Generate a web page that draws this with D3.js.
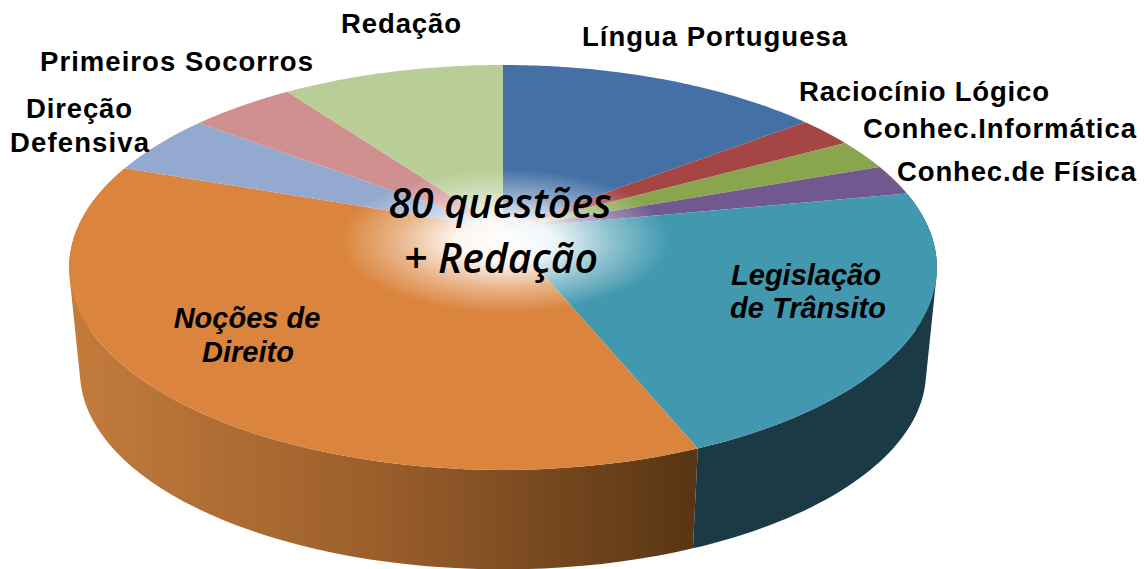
<!DOCTYPE html>
<html>
<head>
<meta charset="utf-8">
<script src="https://cdn.jsdelivr.net/npm/d3@7"></script>
<style>
html,body{margin:0;padding:0;background:#fff;}
svg{display:block;}
text{fill:#000;}
.lab{font-family:"Liberation Sans",Arial,sans-serif;font-weight:bold;font-size:27.5px;}
.inner{font-family:"Liberation Sans",Arial,sans-serif;font-weight:bold;font-style:italic;font-size:29px;text-anchor:middle;}
.center{font-family:"Open Sans",sans-serif;font-weight:600;font-style:italic;font-size:41px;text-anchor:middle;}
</style>
</head>
<body>
<svg width="1144" height="569"></svg>
<script>
// values (questions per subject, redação estimated)
var categories = ["Língua Portuguesa","Raciocínio Lógico","Conhec.Informática","Conhec.de Física",
                  "Legislação de Trânsito","Noções de Direito","Direção Defensiva","Primeiros Socorros","Redação"];
var values = [11.7,2,2,2,17.6,29.4,4,3.8,8];
var colorList = ["#4470a5","#a54644","#89a54e","#71588f","#4198af","#db843d","#93a9cf","#cf908f","#b9cd96"];

var svg = d3.select("svg");

var colors = d3.scaleOrdinal().domain(categories).range(colorList);

// perspective view of the disc: unit circle -> screen
// top rim y=65, apex y=229, front rim y=470
var cx = 503, r = 426, persp = -0.19, ya = 151.65, yb = 229;
var project = function(a)
{
  var u = Math.sin(a), v = -Math.cos(a);
  var w = 1 + persp*v;
  return [cx + r*u/w, (yb + ya*v)/w];
};
// the bottom rim is the top rim moved down and a little smaller
var projectLow = function(a)
{
  var p = project(a);
  return [cx + (p[0]-cx)*0.975, 372 + (p[1]-267.5)*0.975];
};

var slices = d3.pie().sort(null)(values);

var arcAngles = function(d)
{
  return d3.range(0,61).map(function(i){return d.startAngle + (d.endAngle-d.startAngle)*i/60;});
};

var line = d3.line();

var defs = svg.append("defs");

var wallGrad = defs.append("linearGradient")
  .attr("id","wallOrange")
  .attr("gradientUnits","userSpaceOnUse")
  .attr("x1",68).attr("x2",695).attr("y1",0).attr("y2",0);
wallGrad.append("stop").attr("offset",0).attr("stop-color","#c47c3c");
wallGrad.append("stop").attr("offset",0.5).attr("stop-color","#9a5e2b");
wallGrad.append("stop").attr("offset",1).attr("stop-color","#583514");

var glow = defs.append("radialGradient").attr("id","glow");
glow.append("stop").attr("offset",0).attr("stop-color","#fff").attr("stop-opacity",1);
glow.append("stop").attr("offset",0.3).attr("stop-color","#fff").attr("stop-opacity",0.92);
glow.append("stop").attr("offset",0.65).attr("stop-color","#fff").attr("stop-opacity",0.4);
glow.append("stop").attr("offset",1).attr("stop-color","#fff").attr("stop-opacity",0);

// side wall, only the two front slices show
var wallFill = {"Legislação de Trânsito":"#1b3a46","Noções de Direito":"url(#wallOrange)"};

// one quad per step, all wound the same way, so the outline closes
// between top and bottom rim and the fill has no seams
svg.append("g").classed("walls",true)
  .selectAll("path")
  .data(slices.filter(function(d){return wallFill[categories[d.index]];}))
  .enter()
  .append("path")
  .attr("d",function(d)
  {
    return d3.pairs(arcAngles(d)).map(function(s)
    {
      var quad = [project(s[0]),project(s[1]),projectLow(s[1]),projectLow(s[0])];
      if (d3.polygonArea(quad) < 0) { quad.reverse(); }
      return line(quad)+"Z";
    }).join("");
  })
  .attr("fill",function(d){return wallFill[categories[d.index]];});

// top face
svg.append("g").classed("top",true)
  .selectAll("path")
  .data(slices)
  .enter()
  .append("path")
  .attr("d",function(d)
  {
    return line([[cx,yb]].concat(arcAngles(d).map(project)))+"Z";
  })
  .attr("fill",function(d){return colors(categories[d.index]);});

svg.append("ellipse")
  .attr("cx",505).attr("cy",241).attr("rx",165).attr("ry",72)
  .attr("fill","url(#glow)");

// outside labels
var labels = [
  {t:"Língua Portuguesa",x:582,y:46,w:265},
  {t:"Raciocínio Lógico",x:799,y:101,w:250},
  {t:"Conhec.Informática",x:863,y:138,w:273},
  {t:"Conhec.de Física",x:897,y:181,w:239},
  {t:"Direção",x:26,y:118,w:106},
  {t:"Defensiva",x:10,y:152,w:139},
  {t:"Primeiros Socorros",x:40,y:71,w:273},
  {t:"Redação",x:341,y:33,w:120}
];

svg.append("g").selectAll("text")
  .data(labels)
  .enter()
  .append("text")
  .classed("lab",true)
  .attr("x",function(d){return d.x;})
  .attr("y",function(d){return d.y;})
  .attr("textLength",function(d){return d.w;})
  .attr("lengthAdjust","spacing")
  .text(function(d){return d.t;});

var inner = [
  {t:"Noções de",x:247,y:328},
  {t:"Direito",x:248,y:362},
  {t:"Legislação",x:806,y:285},
  {t:"de Trânsito",x:808,y:318}
];

svg.append("g").selectAll("text")
  .data(inner)
  .enter()
  .append("text")
  .classed("inner",true)
  .attr("x",function(d){return d.x;})
  .attr("y",function(d){return d.y;})
  .text(function(d){return d.t;});

svg.append("text").classed("center",true).attr("x",500).attr("y",218).text("80 questões");
svg.append("text").classed("center",true).attr("x",501).attr("y",273).text("+ Redação");
</script>
</body>
</html>
